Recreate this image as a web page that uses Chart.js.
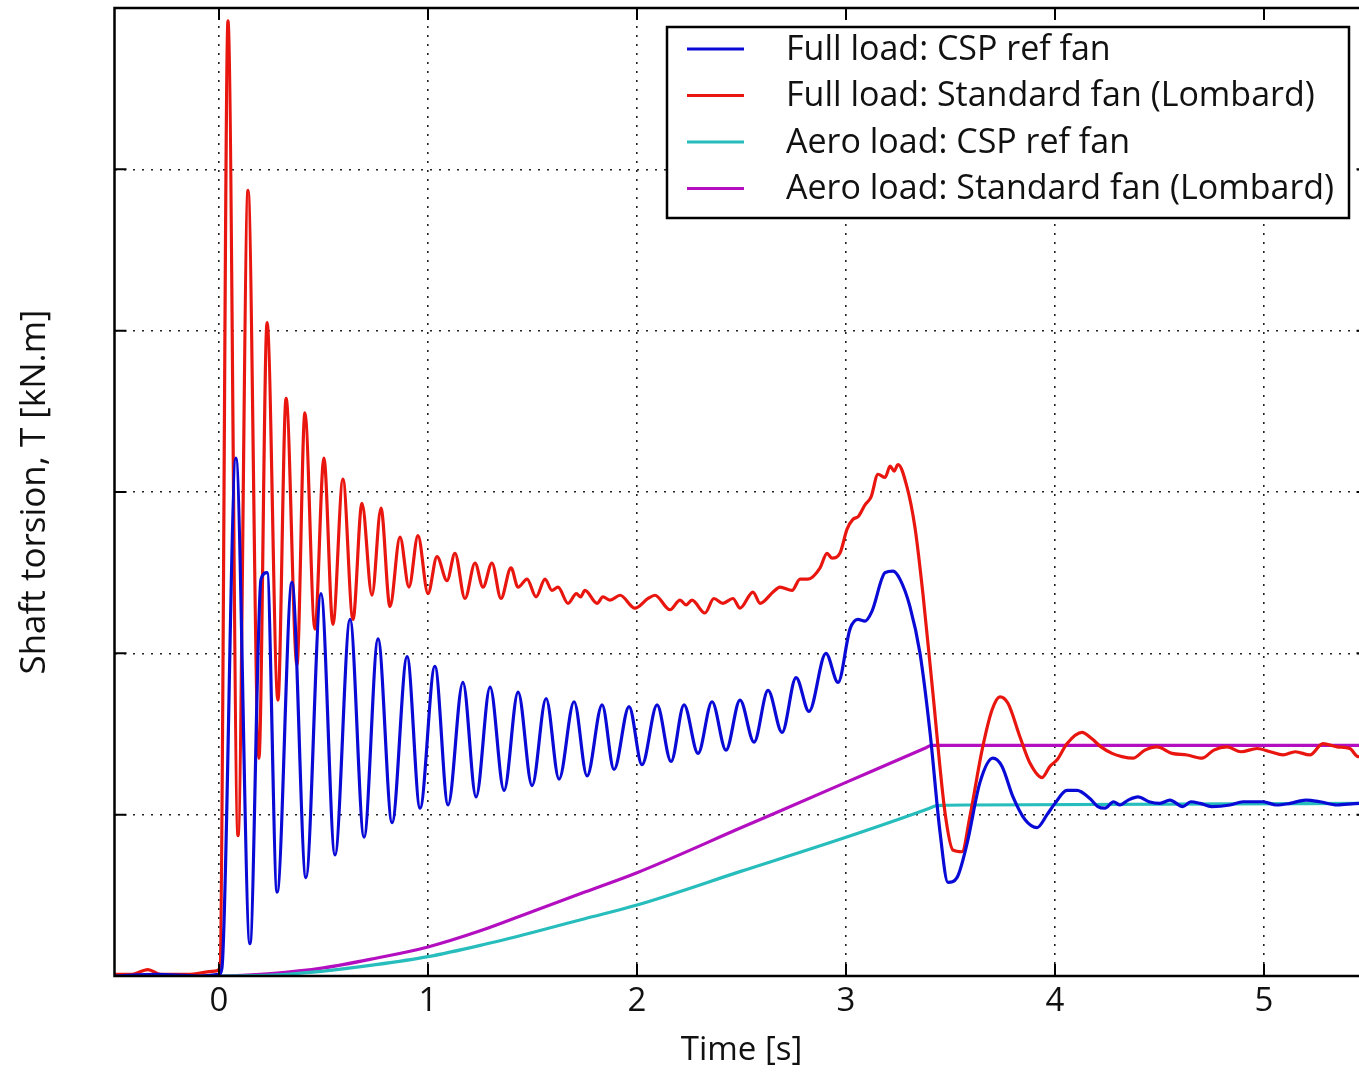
<!DOCTYPE html>
<html>
<head>
<meta charset="utf-8">
<script src="https://cdn.jsdelivr.net/npm/chart.js@4.4.0/dist/chart.umd.min.js"></script>
<style>
  html, body { margin: 0; padding: 0; background: #fff; overflow: hidden; }
  #wrap { width: 1380px; height: 1072px; }
</style>
</head>
<body>
<div id="wrap"><canvas id="torsionChart" width="1380" height="1072"></canvas></div>
<script>
// axis ticks
const xTicks = [0, 1, 2, 3, 4, 5];
const yGrid = [1, 2, 3, 4, 5];

// [time s, torsion kN.m]
const fullLoadCsp = [
  [-0.5, 0.0], [-0.3, 0.01], [-0.1, 0.0], [0.0, 0.01], [0.014, 0.05], [0.081, 3.21],
  [0.148, 0.20], [0.201, 2.46], [0.230, 2.50], [0.278, 0.52], [0.349, 2.44], [0.416, 0.61],
  [0.488, 2.37], [0.555, 0.75], [0.627, 2.21], [0.694, 0.86], [0.761, 2.09], [0.828, 0.95],
  [0.900, 1.98], [0.962, 1.04], [1.033, 1.92], [1.096, 1.06], [1.167, 1.82], [1.230, 1.11],
  [1.297, 1.79], [1.364, 1.15], [1.431, 1.76], [1.498, 1.18], [1.565, 1.72], [1.627, 1.22],
  [1.699, 1.70], [1.761, 1.24], [1.833, 1.68], [1.890, 1.28], [1.962, 1.67], [2.024, 1.31],
  [2.096, 1.68], [2.163, 1.33], [2.225, 1.68], [2.292, 1.38], [2.359, 1.70], [2.426, 1.40],
  [2.493, 1.71], [2.560, 1.45], [2.627, 1.77], [2.694, 1.51], [2.761, 1.85], [2.823, 1.64],
  [2.904, 2.00], [2.962, 1.82], [3.019, 2.15], [3.057, 2.21], [3.091, 2.20], [3.124, 2.26],
  [3.187, 2.50], [3.225, 2.51], [3.258, 2.46], [3.306, 2.29], [3.354, 2.00], [3.402, 1.51],
  [3.450, 0.89], [3.488, 0.58], [3.531, 0.61], [3.579, 0.82], [3.641, 1.20], [3.703, 1.35],
  [3.746, 1.30], [3.799, 1.11], [3.856, 0.97], [3.914, 0.92], [3.962, 1.00], [4.000, 1.07],
  [4.057, 1.15], [4.105, 1.15], [4.167, 1.10], [4.205, 1.05], [4.239, 1.04], [4.280, 1.08],
  [4.311, 1.06], [4.350, 1.09], [4.397, 1.11], [4.45, 1.08], [4.502, 1.07], [4.55, 1.09],
  [4.612, 1.05], [4.65, 1.08], [4.694, 1.07], [4.75, 1.05], [4.837, 1.06], [4.9, 1.08],
  [4.995, 1.08], [5.06, 1.06], [5.124, 1.07], [5.2, 1.09], [5.268, 1.08], [5.35, 1.06],
  [5.455, 1.07], [5.5, 1.07]
];

const fullLoadStd = [
  [-0.5, 0.01], [-0.42, 0.01], [-0.34, 0.04], [-0.28, 0.01], [-0.15, 0.01], [-0.02, 0.03],
  [0.005, 0.05], [0.043, 5.92], [0.091, 0.87], [0.139, 4.87], [0.191, 1.35], [0.230, 4.05],
  [0.282, 1.71], [0.321, 3.58], [0.373, 1.93], [0.411, 3.49], [0.459, 2.15], [0.502, 3.21],
  [0.545, 2.18], [0.593, 3.08], [0.641, 2.21], [0.684, 2.93], [0.732, 2.36], [0.775, 2.90],
  [0.818, 2.29], [0.866, 2.72], [0.909, 2.41], [0.952, 2.73], [1.000, 2.37], [1.043, 2.60],
  [1.091, 2.45], [1.129, 2.62], [1.177, 2.34], [1.225, 2.56], [1.263, 2.41], [1.306, 2.56],
  [1.349, 2.34], [1.397, 2.53], [1.431, 2.41], [1.474, 2.46], [1.517, 2.35], [1.560, 2.46],
  [1.593, 2.39], [1.622, 2.41], [1.670, 2.31], [1.710, 2.37], [1.730, 2.35], [1.751, 2.39],
  [1.809, 2.31], [1.837, 2.35], [1.871, 2.33], [1.919, 2.36], [1.990, 2.28], [2.053, 2.34],
  [2.086, 2.36], [2.158, 2.27], [2.206, 2.33], [2.235, 2.30], [2.263, 2.33], [2.325, 2.25],
  [2.368, 2.34], [2.411, 2.31], [2.459, 2.34], [2.493, 2.28], [2.555, 2.38], [2.589, 2.31],
  [2.651, 2.38], [2.684, 2.41], [2.742, 2.39], [2.780, 2.46], [2.818, 2.46], [2.876, 2.53],
  [2.909, 2.62], [2.933, 2.59], [2.971, 2.62], [3.005, 2.77], [3.033, 2.83], [3.060, 2.85],
  [3.091, 2.92], [3.120, 2.97], [3.153, 3.11], [3.187, 3.09], [3.211, 3.16], [3.230, 3.13],
  [3.249, 3.17], [3.292, 3.03], [3.330, 2.78], [3.368, 2.37], [3.416, 1.75], [3.474, 1.01],
  [3.512, 0.78], [3.555, 0.77], [3.593, 0.99], [3.651, 1.40], [3.699, 1.65], [3.737, 1.73],
  [3.775, 1.69], [3.833, 1.48], [3.880, 1.32], [3.938, 1.23], [3.976, 1.30], [4.010, 1.34],
  [4.057, 1.44], [4.129, 1.51], [4.177, 1.47], [4.220, 1.42], [4.273, 1.38], [4.320, 1.36],
  [4.373, 1.35], [4.430, 1.40], [4.488, 1.42], [4.560, 1.38], [4.632, 1.37], [4.703, 1.35],
  [4.760, 1.40], [4.823, 1.42], [4.890, 1.39], [4.967, 1.41], [5.030, 1.39], [5.091, 1.37],
  [5.150, 1.39], [5.220, 1.37], [5.282, 1.44], [5.350, 1.42], [5.411, 1.41], [5.450, 1.36],
  [5.5, 1.36]
];

const aeroLoadCsp = [
  [-0.5, 0], [0, 0], [0.25, 0.005], [0.5, 0.03], [0.75, 0.07], [1.0, 0.12], [1.25, 0.19],
  [1.5, 0.27], [1.75, 0.355], [2.0, 0.44], [2.5, 0.65], [3.0, 0.86], [3.40, 1.04],
  [3.43, 1.055], [3.46, 1.058], [3.6, 1.06], [5.5, 1.07]
];

const aeroLoadStd = [
  [-0.5, 0], [0, 0], [0.25, 0.015], [0.5, 0.05], [0.75, 0.11], [1.0, 0.18], [1.25, 0.28],
  [1.5, 0.40], [1.75, 0.52], [2.0, 0.64], [2.5, 0.92], [3.0, 1.20], [3.38, 1.413],
  [3.41, 1.43], [3.44, 1.43], [5.5, 1.43]
];

const seriesNames = [
  'Full load: CSP ref fan',
  'Full load: Standard fan (Lombard)',
  'Aero load: CSP ref fan',
  'Aero load: Standard fan (Lombard)'
];
const seriesColors = ['#0a0ad6', '#e8160f', '#27bdbd', '#b30fc0'];
const seriesData = [fullLoadCsp, fullLoadStd, aeroLoadCsp, aeroLoadStd];

const FONT = '"Open Sans", sans-serif';

// frame + inward ticks like matplotlib
const frameTicks = {
  id: 'frameTicks',
  afterDatasetsDraw(chart) {
    const { ctx, chartArea: a, scales } = chart;
    ctx.save();
    ctx.strokeStyle = '#000';
    ctx.lineWidth = 2;
    ctx.beginPath();
    xTicks.forEach(v => {
      const px = scales.x.getPixelForValue(v);
      ctx.moveTo(px, a.bottom); ctx.lineTo(px, a.bottom - 12);
      ctx.moveTo(px, a.top); ctx.lineTo(px, a.top + 12);
    });
    yGrid.forEach(v => {
      const py = scales.y.getPixelForValue(v);
      ctx.moveTo(a.left, py); ctx.lineTo(a.left + 12, py);
      ctx.moveTo(a.right, py); ctx.lineTo(a.right - 12, py);
    });
    ctx.stroke();
    ctx.lineWidth = 2.5;
    ctx.strokeRect(a.left, a.top, a.right - a.left, a.bottom - a.top);
    ctx.restore();
  }
};

const legendBox = {
  id: 'legendBox',
  afterDraw(chart) {
    const ctx = chart.ctx;
    ctx.save();
    ctx.fillStyle = '#fff';
    ctx.fillRect(667, 27, 682, 191);
    ctx.strokeStyle = '#000';
    ctx.lineWidth = 2.5;
    ctx.strokeRect(667, 27, 682, 191);
    ctx.font = '34px ' + FONT;
    ctx.textBaseline = 'middle';
    chart.data.datasets.forEach((ds, i) => {
      const y = 49 + i * 46.5;
      ctx.strokeStyle = ds.borderColor;
      ctx.lineWidth = 3;
      ctx.beginPath();
      ctx.moveTo(687, y); ctx.lineTo(744, y);
      ctx.stroke();
      ctx.fillStyle = '#111';
      ctx.fillText(ds.label, 786, y + 1);
    });
    ctx.restore();
  }
};

new Chart(document.getElementById('torsionChart'), {
  type: 'line',
  data: {
    datasets: seriesData.map((pts, i) => ({
      label: seriesNames[i],
      data: pts.map(p => ({ x: p[0], y: p[1] })),
      borderColor: seriesColors[i],
      borderWidth: 3.2,
      pointRadius: 0,
      fill: false,
      cubicInterpolationMode: 'monotone'
    }))
  },
  options: {
    responsive: false,
    animation: false,
    events: [],
    layout: { padding: { top: 8, right: 11.5, left: 0, bottom: 0 } },
    scales: {
      x: {
        type: 'linear',
        min: -0.5,
        max: 5.5,
        afterBuildTicks: s => { s.ticks = xTicks.map(v => ({ value: v })); },
        afterFit: s => { s.height = 96; },
        grid: { color: '#222', lineWidth: 1.6, drawTicks: false },
        border: { display: false, dash: [2, 7] },
        ticks: { color: '#111', font: { family: FONT, size: 33 }, padding: 6 },
        title: {
          display: true, text: 'Time [s]', color: '#111',
          font: { family: FONT, size: 33 }, padding: { top: 0, bottom: 2 }
        }
      },
      y: {
        min: 0,
        max: 6,
        afterBuildTicks: s => { s.ticks = yGrid.map(v => ({ value: v })); },
        afterFit: s => { s.width = 114.5; },
        grid: { color: '#222', lineWidth: 1.6, drawTicks: false },
        border: { display: false, dash: [2, 7] },
        ticks: { display: false },
        title: {
          display: true, text: 'Shaft torsion, T [kN.m]', color: '#111',
          font: { family: FONT, size: 35 }, padding: { top: 14, bottom: 0 }
        }
      }
    },
    plugins: {
      legend: { display: false },
      tooltip: { enabled: false }
    }
  },
  plugins: [frameTicks, legendBox]
});
</script>
</body>
</html>
